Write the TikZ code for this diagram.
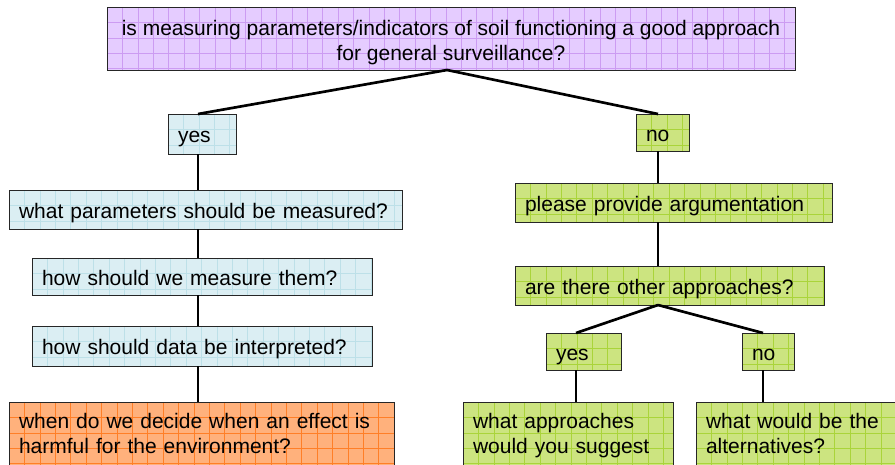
\documentclass[tikz,border=0pt]{standalone}
\usepackage{fontspec}
\setmainfont{Liberation Sans}
\usetikzlibrary{calc}
\hyphenpenalty=10000
\exhyphenpenalty=10000
\definecolor{purpfill}{HTML}{E5CCFF}
\definecolor{purpgrid}{HTML}{CC9CF2}
\definecolor{bluefill}{HTML}{DBEEF3}
\definecolor{bluegrid}{HTML}{BDE0E8}
\definecolor{greenfill}{HTML}{CCE480}
\definecolor{greengrid}{HTML}{AAD43A}
\definecolor{orangefill}{HTML}{FFB17C}
\definecolor{orangegrid}{HTML}{FF7F27}
\tikzset{
  gridded/.style={path picture={
    \foreach \i in {1,...,46}{\draw[#1, line width=0.45pt] ($(path picture bounding box.north west)+(\i*11.55pt,0pt)$) -- ++(0pt,-80pt);}
    \foreach \j in {1,...,6}{\draw[#1, line width=0.45pt] ($(path picture bounding box.north west)+(0pt,-\j*11.55pt)$) -- ++(600pt,0pt);}
  }},
  box/.style={draw=black!85, line width=0.75pt, rectangle, anchor=north west, outer sep=0pt, inner xsep=7.5pt, inner ysep=2pt, align=left, font=\fontsize{15.75}{18.75}\selectfont},
  oneline/.style={text height=15.75pt, text depth=3pt},
  purplebox/.style={box, fill=purpfill, gridded=purpgrid},
  bluebox/.style={box, fill=bluefill, gridded=bluegrid},
  greenbox/.style={box, fill=greenfill, gridded=greengrid},
  orangebox/.style={box, fill=orangefill, gridded=orangegrid},
  conn/.style={draw=black, line width=2pt}
}
\begin{document}
\begin{tikzpicture}[x=0.75pt,y=-0.75pt]
\useasboundingbox (0,0) rectangle (895,464);
\clip (0,0) rectangle (895,464);
\fill[white] (0,0) rectangle (895,464);
% column coordinates
\coordinate (sT) at (447,0);
\coordinate (sL) at (198,0);
\coordinate (sR) at (658,0);
\coordinate (sY) at (576,0);
\coordinate (sN) at (763,0);
% nodes
\node[purplebox, align=center, minimum width=516pt, minimum height=47.25pt] (top) at (107,7)
  {\rule{0pt}{17.6pt}is measuring parameters/indicators of soil functioning a good approach\\for general surveillance?};
\node[bluebox, oneline, text width=36pt, minimum height=30pt] (yesL) at (168,114) {yes};
\node[greenbox, oneline, text width=24.75pt, minimum height=27.75pt] (noR) at (636,114) {no};
\node[bluebox, oneline, text width=279.75pt, minimum height=29.25pt] (q1) at (9,190) {what parameters should be measured?};
\node[bluebox, oneline, text width=240pt, minimum height=27.75pt] (q2) at (32,258) {how should we measure them?};
\node[bluebox, oneline, text width=240pt, minimum height=30pt] (q3) at (32,326) {how should data be interpreted?};
\node[orangebox, text width=273.75pt, minimum height=50.25pt] (harm) at (9,402)
  {\strut when do we decide when an effect is\\\strut harmful for the environment?};
\node[greenbox, oneline, text width=222.75pt, minimum height=29.25pt] (arg) at (515,183) {please provide argumentation};
\node[greenbox, oneline, text width=216.75pt, minimum height=29.25pt] (other) at (515,266) {are there other approaches?};
\node[greenbox, oneline, text width=41.25pt, minimum height=27.75pt] (yes2) at (546,333) {yes};
\node[greenbox, oneline, text width=24pt, minimum height=27.75pt] (no2) at (742,333) {no};
\node[greenbox, text width=142.5pt, minimum height=50.25pt] (sugg) at (463,402)
  {\strut what approaches\\\strut would you suggest};
\node[greenbox, text width=145.5pt, minimum height=50.25pt] (alt) at (696,402)
  {\strut what would be the\\\strut alternatives?};
% connectors
\draw[conn] (top.south -| sT) -- (yesL.north -| sL);
\draw[conn] (top.south -| sT) -- (noR.north -| sR);
\draw[conn] (yesL.south -| sL) -- (q1.north -| sL);
\draw[conn] (q1.south -| sL) -- (q2.north -| sL);
\draw[conn] (q2.south -| sL) -- (q3.north -| sL);
\draw[conn] (q3.south -| sL) -- (harm.north -| sL);
\draw[conn] (noR.south -| sR) -- (arg.north -| sR);
\draw[conn] (arg.south -| sR) -- (other.north -| sR);
\draw[conn] (other.south -| sR) -- (yes2.north -| sY);
\draw[conn] (other.south -| sR) -- (no2.north -| sN);
\draw[conn] (yes2.south -| sY) -- (sugg.north -| sY);
\draw[conn] (no2.south -| sN) -- (alt.north -| sN);
\end{tikzpicture}
\end{document}
